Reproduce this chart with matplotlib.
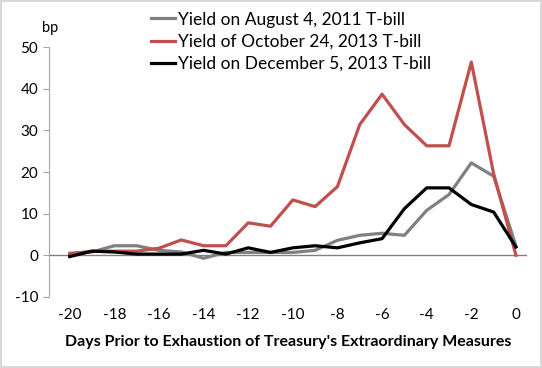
import matplotlib.pyplot as plt

days = list(range(-20, 1))
aug_2011 = [0.5, 0.8, 2.3, 2.3, 1.2, 0.8, -0.7, 0.7, 0.7, 0.7, 0.7, 1.2,
            3.6, 4.8, 5.3, 4.8, 10.8, 14.6, 22.2, 19.0, 2.2]
oct_2013 = [0.3, 1.0, 1.0, 1.0, 1.7, 3.7, 2.3, 2.3, 7.8, 7.0, 13.3, 11.7,
            16.5, 31.4, 38.7, 31.4, 26.3, 26.3, 46.4, 19.6, 0.0]
dec_2013 = [-0.3, 1.0, 0.8, 0.3, 0.3, 0.3, 1.2, 0.3, 1.8, 0.7, 1.8, 2.3,
            1.8, 3.0, 4.0, 11.2, 16.2, 16.2, 12.2, 10.4, 2.0]
labels = ['Yield on August 4, 2011 T-bill',
          'Yield of October 24, 2013 T-bill',
          'Yield on December 5, 2013 T-bill']

plt.rcParams['font.family'] = ['Lato', 'DejaVu Sans']
plt.rcParams['axes.unicode_minus'] = False

fig = plt.figure(figsize=(5.42, 3.68), dpi=100)
fig.patch.set_edgecolor('#d9d9d9')
fig.patch.set_linewidth(1.5)
ax = fig.add_axes([0.0895, 0.193, 0.883, 0.679])

ax.plot(days, aug_2011, color='#808080', lw=2.3, label=labels[0])
ax.plot(days, oct_2013, color='#c0504d', lw=2.3, label=labels[1])
ax.plot(days, dec_2013, color='#000000', lw=2.3, label=labels[2])
ax.axhline(0, color='#808080', lw=1, zorder=0)

ax.set_xlim(-20.95, 0.5)
ax.set_ylim(-10, 50)
ax.set_yticks(range(-10, 51, 10))
ax.set_xticks(range(-20, 1, 2))
for s in ['top', 'right', 'bottom']:
    ax.spines[s].set_visible(False)
ax.spines['left'].set_color('#a6a6a6')
ax.tick_params(axis='y', colors='#a6a6a6', labelcolor='black', length=4, labelsize=11)
ax.tick_params(axis='x', length=0, labelsize=11, pad=8)

ax.set_xlabel("Days Prior to Exhaustion of Treasury's Extraordinary Measures",
              fontsize=11.5, fontweight='bold', labelpad=9)
fig.text(0.077, 0.912, 'bp', fontsize=10.5)

ax.legend(loc='upper left', bbox_to_anchor=(0.2, 1.17), frameon=False,
          fontsize=12.5, handlelength=1.4, handletextpad=0.15,
          labelspacing=0.35, borderaxespad=0)

fig.savefig('out.png', dpi=100)
